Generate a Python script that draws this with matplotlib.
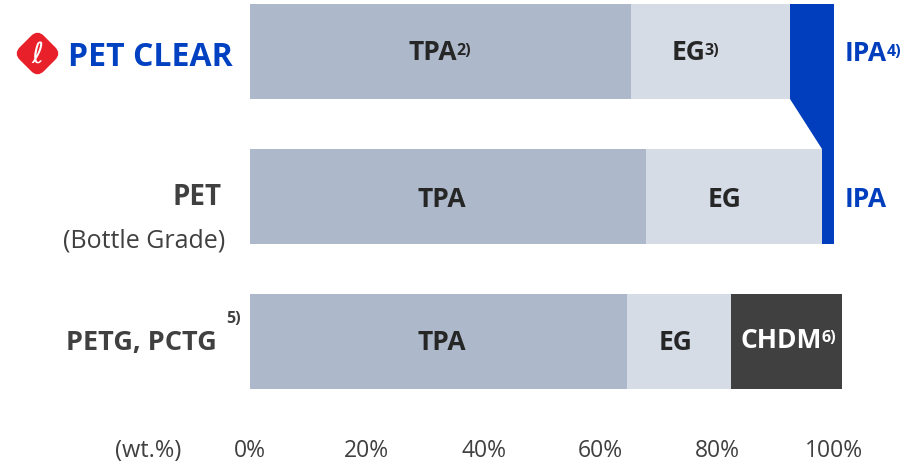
import matplotlib
matplotlib.use("Agg")
import matplotlib.pyplot as plt
from matplotlib.patches import FancyBboxPatch, Polygon
from matplotlib.transforms import Affine2D

plt.rcParams['font.family'] = ['Open Sans', 'DejaVu Sans']

categories = ["PET CLEAR", "PET", "PETG, PCTG"]
subtitle = "(Bottle Grade)"
tpa = [65.3, 67.8, 64.6]
eg = [27.2, 30.1, 17.8]
ipa = [7.5, 2.1, 0.0]
chdm = [0.0, 0.0, 19.0]
ticks = [0, 20, 40, 60, 80, 100]
tick_labels = ["0%", "20%", "40%", "60%", "80%", "100%"]

c_tpa = "#ADB9CA"
c_eg = "#D6DCE5"
c_ipa = "#003EBD"
c_chdm = "#404040"
c_txt = "#262626"
c_lab = "#404040"

W, H = 919, 464
fig = plt.figure(figsize=(W / 100, H / 100), dpi=100)
ax_l, ax_r = 250, 834
ax_t, ax_b = 5, 390
ax = fig.add_axes([ax_l / W, (H - ax_b) / H, (ax_r - ax_l) / W, (ax_b - ax_t) / H])

bh = 95 / 145
ypos = [0, 1, 2]
ax.set_xlim(0, 100)
ax.set_ylim(2 + bh / 2, -bh / 2)

left = [0, 0, 0]
for vals, col in [(tpa, c_tpa), (eg, c_eg), (ipa, c_ipa), (chdm, c_chdm)]:
    ax.barh(ypos, vals, left=left, height=bh, color=col, linewidth=0, clip_on=False)
    left = [l + v for l, v in zip(left, vals)]

# connector between IPA of row 0 and row 1
x0 = tpa[0] + eg[0]
x1 = tpa[1] + eg[1]
r0 = tpa[0] + eg[0] + ipa[0]
r1 = tpa[1] + eg[1] + ipa[1]
poly = Polygon([(x0, 0 + bh / 2), (r0, 0 + bh / 2), (r1, 1 - bh / 2), (x1, 1 - bh / 2)],
               closed=True, facecolor=c_ipa, edgecolor='none', clip_on=False)
ax.add_patch(poly)

for s in ax.spines.values():
    s.set_visible(False)
ax.set_yticks([])
ax.set_xticks(ticks)
ax.set_xticklabels(tick_labels, fontsize=16.5, color=c_lab)
ax.tick_params(axis='x', length=0, pad=35.5)

SUP = 11.5


def label(x, y, main, sup=None, color=c_txt, size=19, ha='center'):
    t = ax.text(x, y, main, ha=ha, va='baseline',
                fontsize=size, fontweight='bold', color=color, clip_on=False)
    if sup:
        ax.annotate(sup, xy=(1.0, 0.0), xytext=(-0.5, 8.0), textcoords='offset points',
                    xycoords=t, ha='left', va='baseline',
                    fontsize=SUP, fontweight='bold', color=color)
    return t

# bar labels (row 0)
label(tpa[0] / 2 - 1.4, 0.052, "TPA", "2)")
label(tpa[0] + eg[0] / 2 - 3.8, 0.052, "EG", "3)")
# row 1
label(tpa[1] / 2 - 1.0, 1.066, "TPA")
label(tpa[1] + eg[1] / 2 - 1.6, 1.066, "EG")
# row 2
label(tpa[2] / 2 + 0.6, 2.055, "TPA")
label(tpa[2] + eg[2] / 2 - 0.6, 2.055, "EG")
label(tpa[2] + eg[2] + chdm[2] / 2 - 0.9, 2.035, "CHDM", "6)", color="white")

# IPA labels to the right
label(101.9, 0.058, "IPA", "4)", color=c_ipa, ha='left')
label(101.9, 1.066, "IPA", color=c_ipa, ha='left')

# category labels
ax.text(-2.9, 0.093, categories[0], ha='right', va='baseline', fontsize=23,
        fontweight='bold', color="#0041C2", clip_on=False)
ax.text(-4.95, 1.052, categories[1], ha='right', va='baseline', fontsize=20,
        fontweight='bold', color=c_lab, clip_on=False)
ax.text(-4.3, 1.348, subtitle, ha='right', va='baseline', fontsize=18,
        color=c_lab, clip_on=False)
ax.text(-5.7, 2.052, categories[2], ha='right', va='baseline', fontsize=19.5,
        fontweight='bold', color=c_lab, clip_on=False)
ax.text(-2.8, 1.866, "5)", ha='center', va='baseline', fontsize=SUP,
        fontweight='bold', color=c_lab, clip_on=False)

# (wt.%) label
fig.text(148 / W, 1 - 457 / H, "(wt.%)", ha='center', va='baseline', fontsize=17, color=c_lab)

# logo: rounded diamond with script l
cx, cy = 37.5 / 100, (H - 54.5) / 100
s = 0.34
logo = FancyBboxPatch((cx - s / 2, cy - s / 2), s, s, boxstyle="round,pad=0,rounding_size=0.09",
                      facecolor="#E8202A", edgecolor='none',
                      transform=Affine2D().rotate_deg_around(cx, cy, 45) + fig.dpi_scale_trans)
fig.patches.append(logo)
fig.text(cx, cy, "ℓ", transform=fig.dpi_scale_trans, ha='center', va='center',
         fontsize=21, color='white', family='DejaVu Sans')

fig.savefig("out.png", dpi=100)
